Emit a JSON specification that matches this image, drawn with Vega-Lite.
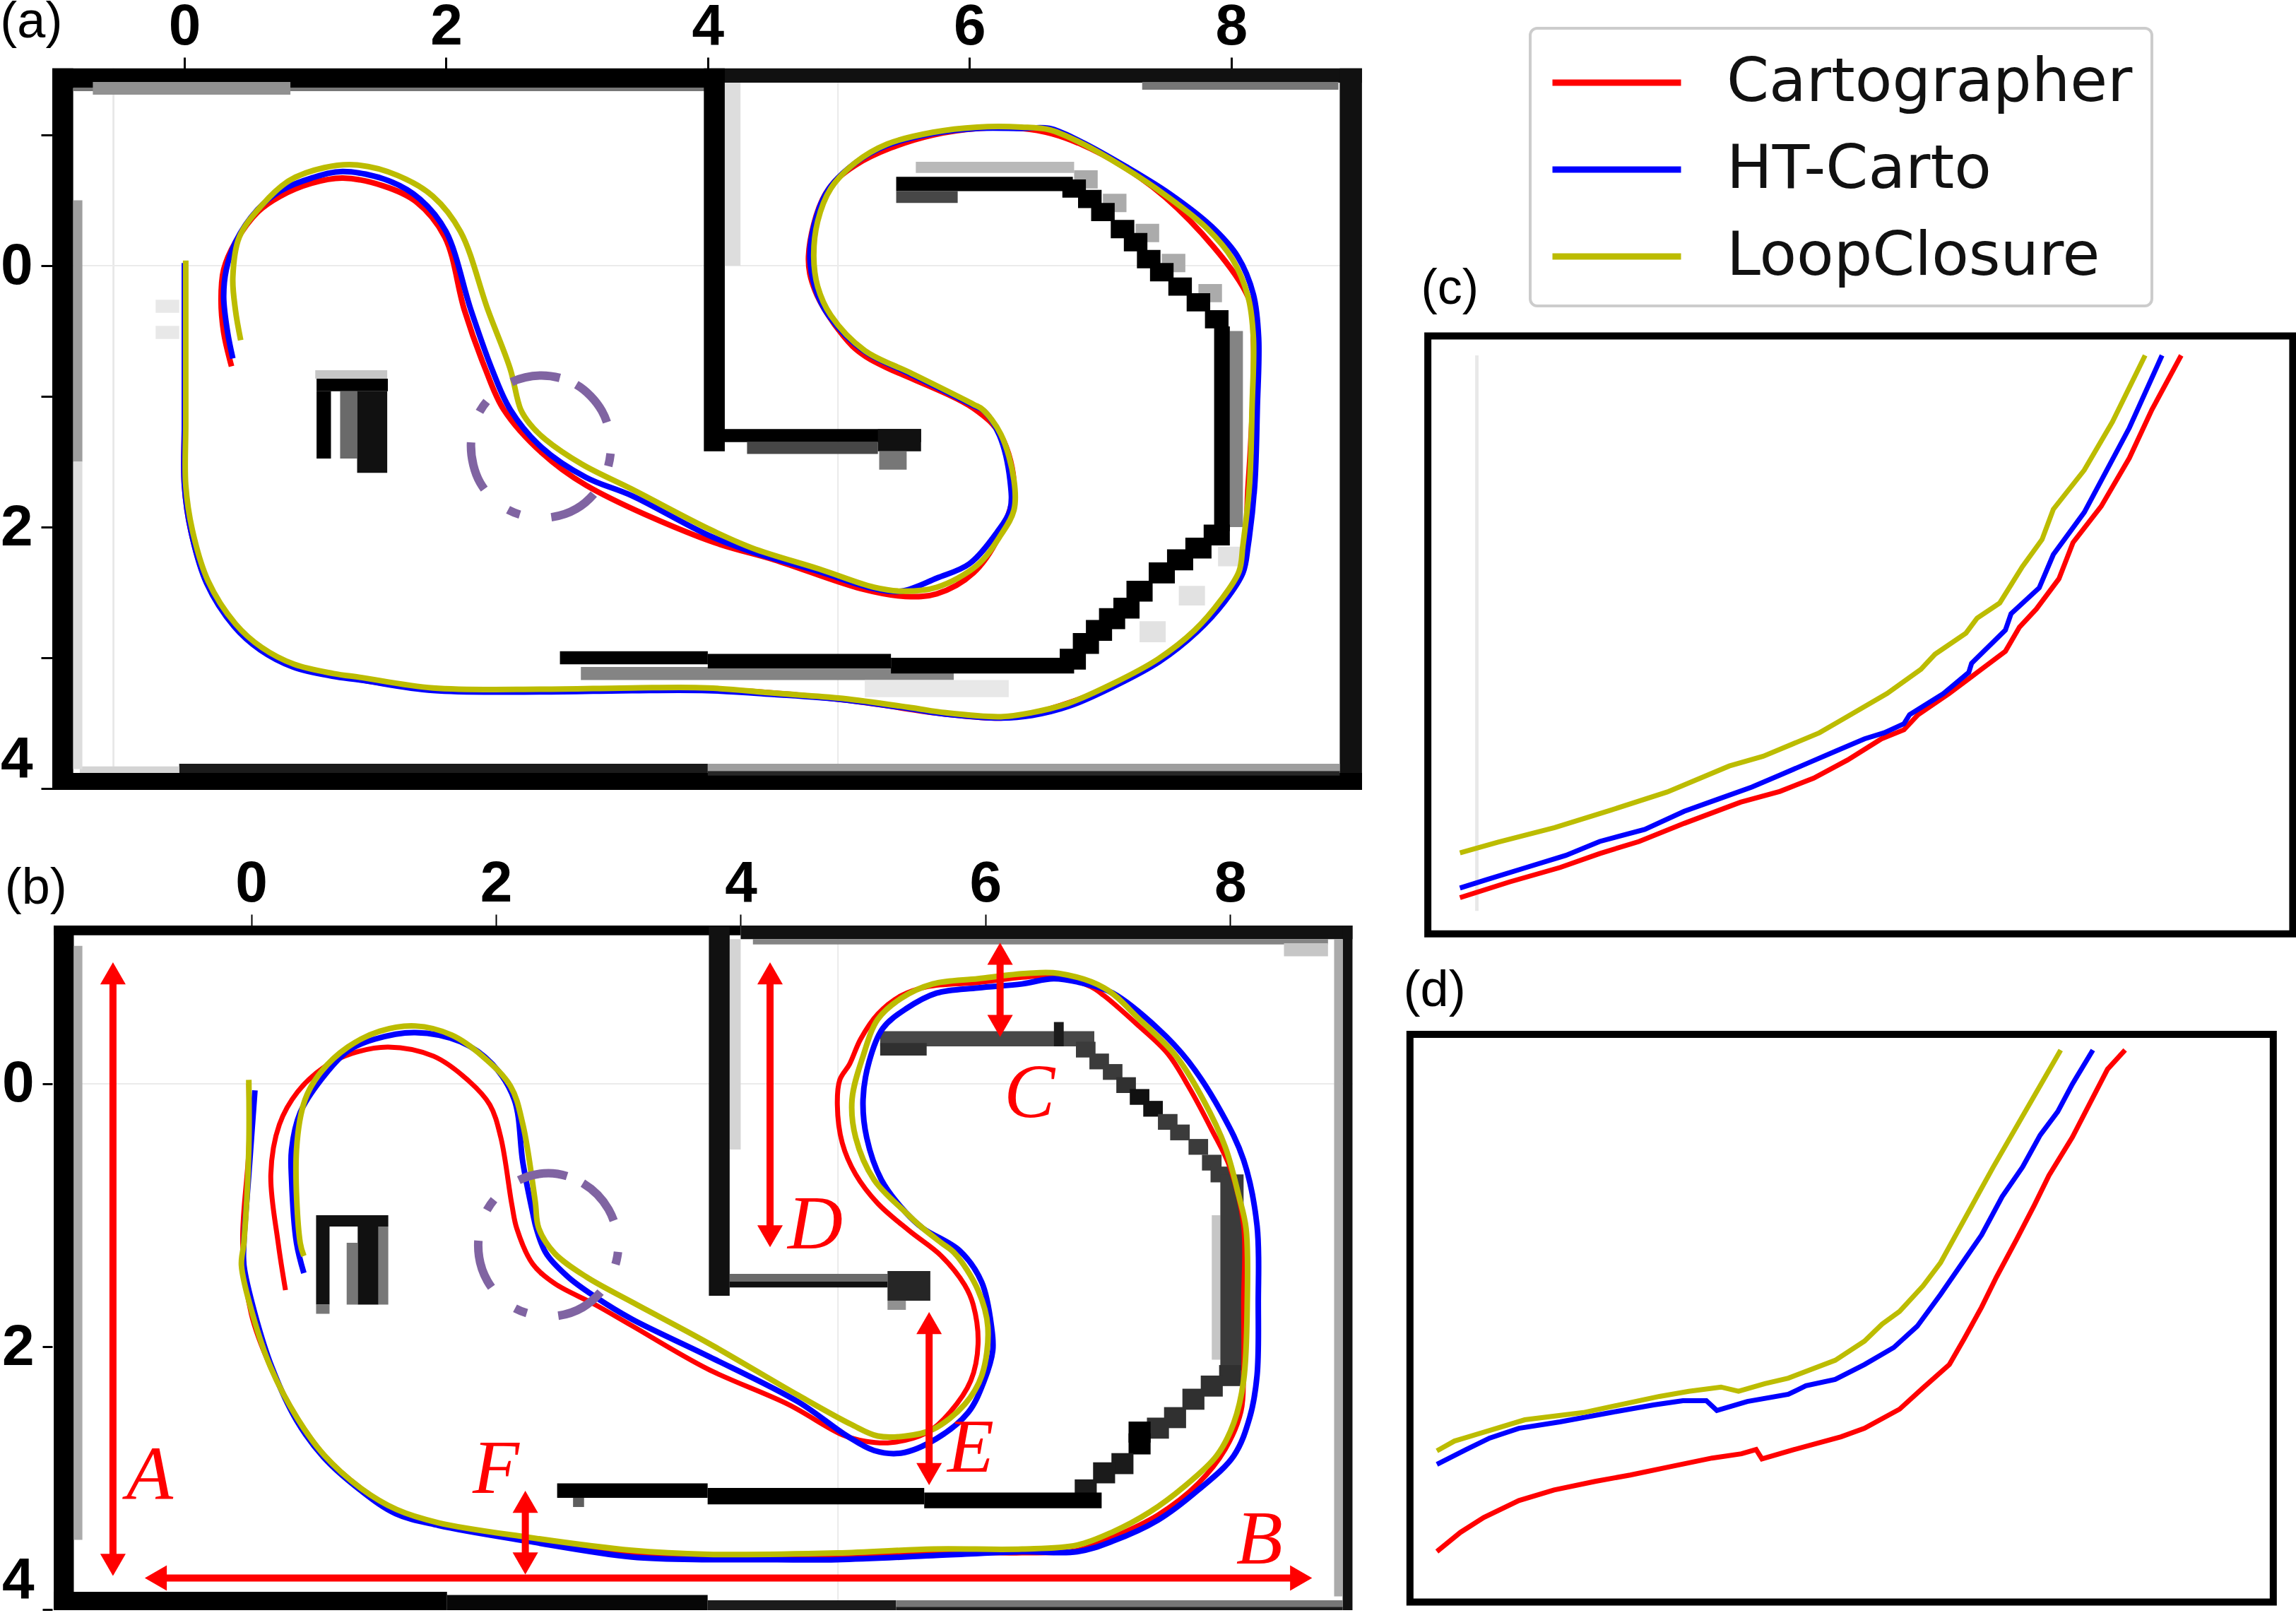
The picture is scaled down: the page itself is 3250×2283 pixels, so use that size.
{"$schema":"https://vega.github.io/schema/vega-lite/v6.json","background":"white","padding":{"left":0,"top":-6,"right":0,"bottom":0},"autosize":{"type":"pad"},"config":{"view":{"stroke":null},"legend":{"strokeWidth":4}},"bounds":"flush","columns":2,"spacing":{"row":192,"column":61},"resolve":{"legend":{"color":"independent"}},
"datasets":{
"aMap":[{"x":-0.55,"x2":-0.535,"y":-1.51,"y2":4.01,"g":0.08},{"x":4.99,"x2":5.0,"y":-1.51,"y2":4.01,"g":0.08},{"x":-1.01,"x2":9.0,"y":-0.005,"y2":0.005,"g":0.07},{"x":-1.01,"x2":-0.85,"y":-1.51,"y2":4.01,"g":1},{"x":-1.01,"x2":4.0,"y":-1.51,"y2":-1.36,"g":1},{"x":-0.85,"x2":4.0,"y":-1.36,"y2":-1.335,"g":0.5},{"x":-0.7,"x2":0.81,"y":-1.405,"y2":-1.308,"g":0.4},{"x":4.0,"x2":9.0,"y":-1.51,"y2":-1.4,"g":0.95},{"x":7.32,"x2":8.82,"y":-1.405,"y2":-1.346,"g":0.5},{"x":8.83,"x2":9.0,"y":-1.51,"y2":4.01,"g":0.95},{"x":-1.01,"x2":9.0,"y":3.88,"y2":4.01,"g":1},{"x":-0.04,"x2":4.0,"y":3.81,"y2":3.88,"g":0.9},{"x":4.0,"x2":8.83,"y":3.81,"y2":3.865,"g":0.35},{"x":4.0,"x2":8.83,"y":3.865,"y2":3.9,"g":0.85},{"x":-0.8,"x2":-0.04,"y":3.83,"y2":3.88,"g":0.15},{"x":-0.85,"x2":-0.78,"y":-0.5,"y2":1.5,"g":0.35},{"x":-0.85,"x2":-0.78,"y":1.5,"y2":3.85,"g":0.12},{"x":-0.22,"x2":-0.04,"y":0.26,"y2":0.36,"g":0.08},{"x":-0.22,"x2":-0.04,"y":0.46,"y2":0.56,"g":0.08},{"x":3.97,"x2":4.13,"y":-1.51,"y2":1.42,"g":1},{"x":4.13,"x2":4.25,"y":-1.4,"y2":0.0,"g":0.12},{"x":4.1,"x2":5.63,"y":1.25,"y2":1.35,"g":1},{"x":4.3,"x2":5.3,"y":1.35,"y2":1.44,"g":0.7},{"x":5.3,"x2":5.63,"y":1.25,"y2":1.42,"g":0.95},{"x":5.31,"x2":5.52,"y":1.42,"y2":1.56,"g":0.5},{"x":5.59,"x2":6.8,"y":-0.795,"y2":-0.71,"g":0.25},{"x":5.44,"x2":6.79,"y":-0.68,"y2":-0.57,"g":1},{"x":5.44,"x2":5.91,"y":-0.57,"y2":-0.48,"g":0.7},
{"x":6.8,"x2":6.98,"y":-0.73,"y2":-0.59,"g":0.3},{"x":7.02,"x2":7.2,"y":-0.55,"y2":-0.41,"g":0.3},{"x":7.27,"x2":7.45,"y":-0.32,"y2":-0.18,"g":0.3},{"x":7.47,"x2":7.65,"y":-0.09,"y2":0.05,"g":0.3},{"x":7.75,"x2":7.93,"y":0.14,"y2":0.28,"g":0.3},
{"x":6.71,"x2":6.89,"y":-0.66,"y2":-0.52,"g":1},{"x":6.83,"x2":7.01,"y":-0.58,"y2":-0.44,"g":1},{"x":6.93,"x2":7.11,"y":-0.48,"y2":-0.34,"g":1},{"x":7.08,"x2":7.26,"y":-0.35,"y2":-0.21,"g":1},{"x":7.18,"x2":7.36,"y":-0.25,"y2":-0.11,"g":1},{"x":7.28,"x2":7.46,"y":-0.12,"y2":0.02,"g":1},{"x":7.38,"x2":7.56,"y":-0.02,"y2":0.12,"g":1},{"x":7.52,"x2":7.7,"y":0.09,"y2":0.23,"g":1},{"x":7.66,"x2":7.84,"y":0.21,"y2":0.35,"g":1},{"x":7.8,"x2":7.98,"y":0.34,"y2":0.48,"g":1},
{"x":7.99,"x2":8.09,"y":0.5,"y2":2.0,"g":0.45},{"x":7.87,"x2":7.99,"y":0.465,"y2":2.03,"g":1},
{"x":7.9,"x2":8.1,"y":2.15,"y2":2.3,"g":0.1},{"x":7.6,"x2":7.8,"y":2.45,"y2":2.6,"g":0.1},{"x":7.3,"x2":7.5,"y":2.72,"y2":2.88,"g":0.1},
{"x":7.79,"x2":7.99,"y":1.98,"y2":2.14,"g":1},{"x":7.65,"x2":7.85,"y":2.08,"y2":2.24,"g":1},{"x":7.51,"x2":7.71,"y":2.17,"y2":2.33,"g":1},{"x":7.37,"x2":7.57,"y":2.27,"y2":2.43,"g":1},{"x":7.2,"x2":7.4,"y":2.41,"y2":2.57,"g":1},{"x":7.1,"x2":7.3,"y":2.54,"y2":2.7,"g":1},{"x":6.99,"x2":7.19,"y":2.62,"y2":2.78,"g":1},{"x":6.89,"x2":7.09,"y":2.71,"y2":2.87,"g":1},{"x":6.79,"x2":6.99,"y":2.81,"y2":2.97,"g":1},{"x":6.69,"x2":6.89,"y":2.93,"y2":3.09,"g":1},
{"x":3.03,"x2":5.88,"y":3.07,"y2":3.17,"g":0.45},{"x":5.2,"x2":6.3,"y":3.17,"y2":3.3,"g":0.08},{"x":2.87,"x2":4.0,"y":2.95,"y2":3.05,"g":1},{"x":4.0,"x2":5.4,"y":2.97,"y2":3.08,"g":1},{"x":5.4,"x2":6.8,"y":3.0,"y2":3.12,"g":1},
{"x":1.0,"x2":1.55,"y":0.8,"y2":0.865,"g":0.2},{"x":1.01,"x2":1.555,"y":0.865,"y2":0.96,"g":1},{"x":1.01,"x2":1.12,"y":0.96,"y2":1.475,"g":1},{"x":1.19,"x2":1.32,"y":0.96,"y2":1.475,"g":0.55},{"x":1.32,"x2":1.55,"y":0.96,"y2":1.585,"g":0.95}],
"bMap":[{"x":4.79,"x2":4.8,"y":-1.2,"y2":4.0,"g":0.08},{"x":-1.6,"x2":9.0,"y":-0.005,"y2":0.005,"g":0.07},{"x":-1.614,"x2":-1.45,"y":-1.204,"y2":4.005,"g":1},{"x":-1.45,"x2":-1.38,"y":-1.05,"y2":3.47,"g":0.3},{"x":-1.614,"x2":4.0,"y":-1.204,"y2":-1.13,"g":1},{"x":4.0,"x2":9.0,"y":-1.204,"y2":-1.1,"g":0.95},{"x":4.1,"x2":8.8,"y":-1.1,"y2":-1.06,"g":0.45},{"x":8.44,"x2":8.8,"y":-1.07,"y2":-0.97,"g":0.2},{"x":8.92,"x2":9.0,"y":-1.204,"y2":4.005,"g":0.95},{"x":8.85,"x2":8.92,"y":-1.1,"y2":3.9,"g":0.3},{"x":-1.614,"x2":1.6,"y":3.865,"y2":4.005,"g":1},{"x":1.6,"x2":3.73,"y":3.89,"y2":4.005,"g":0.98},{"x":3.73,"x2":5.27,"y":3.93,"y2":4.005,"g":0.9},{"x":5.27,"x2":8.92,"y":3.93,"y2":3.98,"g":0.5},{"x":5.27,"x2":8.92,"y":3.98,"y2":4.005,"g":0.9},{"x":3.91,"x2":4.0,"y":-1.1,"y2":0.5,"g":0.15},{"x":3.74,"x2":3.91,"y":-1.2,"y2":1.613,"g":0.95},{"x":3.91,"x2":5.2,"y":1.446,"y2":1.505,"g":0.55},{"x":3.91,"x2":5.2,"y":1.505,"y2":1.55,"g":0.95},{"x":5.2,"x2":5.55,"y":1.425,"y2":1.65,"g":0.85},{"x":5.2,"x2":5.35,"y":1.65,"y2":1.72,"g":0.4},{"x":5.14,"x2":6.89,"y":-0.4,"y2":-0.285,"g":0.7},{"x":5.14,"x2":5.52,"y":-0.31,"y2":-0.215,"g":0.8},{"x":6.56,"x2":6.64,"y":-0.47,"y2":-0.285,"g":0.9},
{"x":6.74,"x2":6.9,"y":-0.32,"y2":-0.2,"g":0.75},{"x":6.85,"x2":7.01,"y":-0.23,"y2":-0.11,"g":0.75},{"x":6.96,"x2":7.12,"y":-0.15,"y2":-0.03,"g":0.75},{"x":7.07,"x2":7.23,"y":-0.05,"y2":0.07,"g":0.8},{"x":7.18,"x2":7.34,"y":0.04,"y2":0.16,"g":0.95},{"x":7.29,"x2":7.45,"y":0.13,"y2":0.25,"g":0.95},{"x":7.41,"x2":7.57,"y":0.23,"y2":0.35,"g":0.75},{"x":7.51,"x2":7.67,"y":0.31,"y2":0.43,"g":0.75},{"x":7.66,"x2":7.82,"y":0.42,"y2":0.54,"g":0.75},{"x":7.77,"x2":7.93,"y":0.54,"y2":0.66,"g":0.75},{"x":7.84,"x2":8.0,"y":0.63,"y2":0.75,"g":0.75},
{"x":7.85,"x2":7.92,"y":1.0,"y2":2.1,"g":0.2},{"x":7.92,"x2":8.11,"y":0.69,"y2":2.18,"g":0.75},
{"x":7.91,"x2":8.09,"y":2.14,"y2":2.3,"g":0.8},{"x":7.76,"x2":7.94,"y":2.22,"y2":2.38,"g":0.8},{"x":7.61,"x2":7.79,"y":2.32,"y2":2.48,"g":0.8},{"x":7.46,"x2":7.64,"y":2.46,"y2":2.62,"g":0.8},{"x":7.32,"x2":7.5,"y":2.54,"y2":2.7,"g":0.8},{"x":7.17,"x2":7.35,"y":2.57,"y2":2.73,"g":1},{"x":7.17,"x2":7.35,"y":2.66,"y2":2.82,"g":1},{"x":7.03,"x2":7.21,"y":2.81,"y2":2.97,"g":0.9},{"x":6.88,"x2":7.06,"y":2.88,"y2":3.04,"g":0.9},{"x":6.73,"x2":6.91,"y":3.01,"y2":3.17,"g":0.9},
{"x":2.5,"x2":3.73,"y":3.04,"y2":3.15,"g":1},{"x":3.73,"x2":5.5,"y":3.075,"y2":3.2,"g":1},{"x":5.5,"x2":6.95,"y":3.11,"y2":3.23,"g":1},{"x":2.63,"x2":2.72,"y":3.15,"y2":3.22,"g":0.6},
{"x":0.53,"x2":1.12,"y":1.0,"y2":1.086,"g":0.95},{"x":0.53,"x2":0.64,"y":1.086,"y2":1.68,"g":0.95},{"x":0.53,"x2":0.64,"y":1.68,"y2":1.75,"g":0.5},{"x":0.87,"x2":1.04,"y":1.086,"y2":1.68,"g":0.95},{"x":1.04,"x2":1.12,"y":1.086,"y2":1.68,"g":0.5},{"x":0.78,"x2":0.87,"y":1.21,"y2":1.68,"g":0.5}],
"aR":[{"x":0,"y":0},{"x":0,"y":0.56},{"x":0,"y":1.21},{"x":0,"y":1.68},{"x":0.05,"y":2.03},{"x":0.17,"y":2.42},{"x":0.38,"y":2.75},{"x":0.59,"y":2.93},{"x":0.84,"y":3.06},{"x":1.14,"y":3.13},{"x":1.9,"y":3.24},{"x":2.73,"y":3.25},{"x":4,"y":3.24},{"x":5.03,"y":3.32},{"x":5.82,"y":3.43},{"x":6.24,"y":3.46},{"x":6.47,"y":3.43},{"x":7.09,"y":3.21},{"x":7.72,"y":2.8},{"x":8.06,"y":2.35},{"x":8.13,"y":1.68},{"x":8.17,"y":0.55},{"x":8.13,"y":0.24},{"x":7.5,"y":-0.52},{"x":6.85,"y":-0.93},{"x":6.4,"y":-1.05},{"x":5.72,"y":-1.0},{"x":5.13,"y":-0.77},{"x":4.9,"y":-0.55},{"x":4.77,"y":-0.07},{"x":4.82,"y":0.19},{"x":5.03,"y":0.53},{"x":5.2,"y":0.69},{"x":6.03,"y":1.09},{"x":6.24,"y":1.3},{"x":6.34,"y":1.7},{"x":6.24,"y":2.04},{"x":6.03,"y":2.35},{"x":5.75,"y":2.51},{"x":5.51,"y":2.53},{"x":5.17,"y":2.47},{"x":4.51,"y":2.25},{"x":4,"y":2.1},{"x":3.07,"y":1.68},{"x":2.73,"y":1.43},{"x":2.44,"y":1.1},{"x":2.3,"y":0.79},{"x":2.14,"y":0.34},{"x":1.99,"y":-0.22},{"x":1.77,"y":-0.49},{"x":1.52,"y":-0.61},{"x":1.21,"y":-0.67},{"x":0.97,"y":-0.63},{"x":0.73,"y":-0.53},{"x":0.56,"y":-0.41},{"x":0.39,"y":-0.18},{"x":0.3,"y":0.03},{"x":0.28,"y":0.26},{"x":0.3,"y":0.51},{"x":0.36,"y":0.77}],
"aB":[{"x":0,"y":-0.02},{"x":0,"y":0.56},{"x":0,"y":1.21},{"x":0,"y":1.68},{"x":0.05,"y":2.03},{"x":0.17,"y":2.43},{"x":0.38,"y":2.76},{"x":0.58,"y":2.94},{"x":0.83,"y":3.07},{"x":1.13,"y":3.14},{"x":1.35,"y":3.17},{"x":1.9,"y":3.25},{"x":2.73,"y":3.26},{"x":3.42,"y":3.25},{"x":4,"y":3.25},{"x":4.51,"y":3.28},{"x":5.03,"y":3.32},{"x":5.55,"y":3.39},{"x":5.82,"y":3.43},{"x":6.24,"y":3.46},{"x":6.48,"y":3.44},{"x":6.76,"y":3.37},{"x":7.1,"y":3.22},{"x":7.45,"y":3.03},{"x":7.74,"y":2.8},{"x":7.95,"y":2.57},{"x":8.09,"y":2.35},{"x":8.13,"y":2.14},{"x":8.18,"y":1.68},{"x":8.2,"y":1.08},{"x":8.21,"y":0.55},{"x":8.17,"y":0.22},{"x":8.05,"y":-0.07},{"x":7.85,"y":-0.3},{"x":7.53,"y":-0.55},{"x":7.21,"y":-0.75},{"x":6.85,"y":-0.95},{"x":6.61,"y":-1.05},{"x":6.4,"y":-1.05},{"x":6.06,"y":-1.05},{"x":5.72,"y":-1.01},{"x":5.37,"y":-0.92},{"x":5.12,"y":-0.78},{"x":4.92,"y":-0.58},{"x":4.82,"y":-0.34},{"x":4.78,"y":-0.07},{"x":4.82,"y":0.17},{"x":4.93,"y":0.39},{"x":5.19,"y":0.65},{"x":5.55,"y":0.83},{"x":6.03,"y":1.07},{"x":6.11,"y":1.11},{"x":6.23,"y":1.3},{"x":6.31,"y":1.64},{"x":6.31,"y":1.87},{"x":6.21,"y":2.04},{"x":6.0,"y":2.28},{"x":5.75,"y":2.39},{"x":5.48,"y":2.49},{"x":5.27,"y":2.47},{"x":4.85,"y":2.34},{"x":4.34,"y":2.19},{"x":4,"y":2.06},{"x":3.42,"y":1.76},{"x":3.07,"y":1.62},{"x":2.73,"y":1.39},{"x":2.49,"y":1.1},{"x":2.35,"y":0.79},{"x":2.19,"y":0.34},{"x":2.0,"y":-0.26},{"x":1.8,"y":-0.51},{"x":1.56,"y":-0.65},{"x":1.21,"y":-0.72},{"x":0.97,"y":-0.67},{"x":0.73,"y":-0.57},{"x":0.56,"y":-0.43},{"x":0.39,"y":-0.18},{"x":0.32,"y":0.03},{"x":0.3,"y":0.24},{"x":0.33,"y":0.51},{"x":0.37,"y":0.71}],
"aY":[{"x":0.01,"y":-0.04},{"x":0.01,"y":0.56},{"x":0.01,"y":1.21},{"x":0.01,"y":1.68},{"x":0.06,"y":2.02},{"x":0.18,"y":2.41},{"x":0.39,"y":2.74},{"x":0.59,"y":2.92},{"x":0.84,"y":3.05},{"x":1.14,"y":3.12},{"x":1.35,"y":3.15},{"x":1.9,"y":3.23},{"x":2.73,"y":3.24},{"x":3.42,"y":3.23},{"x":4,"y":3.23},{"x":4.51,"y":3.27},{"x":5.03,"y":3.31},{"x":5.55,"y":3.38},{"x":5.82,"y":3.42},{"x":6.24,"y":3.45},{"x":6.47,"y":3.42},{"x":6.75,"y":3.35},{"x":7.09,"y":3.2},{"x":7.44,"y":3.01},{"x":7.72,"y":2.79},{"x":7.92,"y":2.56},{"x":8.06,"y":2.34},{"x":8.09,"y":2.14},{"x":8.14,"y":1.68},{"x":8.16,"y":1.08},{"x":8.17,"y":0.55},{"x":8.13,"y":0.24},{"x":8.01,"y":-0.05},{"x":7.82,"y":-0.28},{"x":7.51,"y":-0.53},{"x":7.2,"y":-0.74},{"x":6.85,"y":-0.94},{"x":6.61,"y":-1.04},{"x":6.4,"y":-1.06},{"x":6.06,"y":-1.06},{"x":5.72,"y":-1.02},{"x":5.37,"y":-0.93},{"x":5.13,"y":-0.79},{"x":4.94,"y":-0.59},{"x":4.84,"y":-0.34},{"x":4.81,"y":-0.07},{"x":4.84,"y":0.16},{"x":4.94,"y":0.38},{"x":5.2,"y":0.65},{"x":5.55,"y":0.82},{"x":6.03,"y":1.06},{"x":6.1,"y":1.1},{"x":6.24,"y":1.29},{"x":6.34,"y":1.64},{"x":6.34,"y":1.87},{"x":6.24,"y":2.06},{"x":6.06,"y":2.29},{"x":5.75,"y":2.46},{"x":5.48,"y":2.49},{"x":5.27,"y":2.46},{"x":4.85,"y":2.32},{"x":4.34,"y":2.16},{"x":4,"y":2.01},{"x":3.42,"y":1.71},{"x":3.04,"y":1.52},{"x":2.76,"y":1.33},{"x":2.64,"y":1.21},{"x":2.57,"y":1.1},{"x":2.49,"y":0.79},{"x":2.32,"y":0.34},{"x":2.11,"y":-0.26},{"x":1.9,"y":-0.53},{"x":1.63,"y":-0.69},{"x":1.32,"y":-0.77},{"x":1.07,"y":-0.75},{"x":0.8,"y":-0.65},{"x":0.59,"y":-0.46},{"x":0.42,"y":-0.22},{"x":0.37,"y":0.09},{"x":0.39,"y":0.34},{"x":0.43,"y":0.57}],
"bR":[{"x":-0.02,"y":0},{"x":-0.02,"y":0.5},{"x":-0.07,"y":1.21},{"x":0,"y":1.75},{"x":0.16,"y":2.16},{"x":0.38,"y":2.55},{"x":0.6,"y":2.83},{"x":0.9,"y":3.08},{"x":1.19,"y":3.25},{"x":1.53,"y":3.35},{"x":2.26,"y":3.46},{"x":3.11,"y":3.57},{"x":3.73,"y":3.61},{"x":4.79,"y":3.59},{"x":5.57,"y":3.56},{"x":6.3,"y":3.57},{"x":6.75,"y":3.55},{"x":7.04,"y":3.45},{"x":7.41,"y":3.28},{"x":7.74,"y":3.04},{"x":7.96,"y":2.78},{"x":8.09,"y":2.49},{"x":8.11,"y":2.22},{"x":8.11,"y":1.66},{"x":8.11,"y":1.08},{"x":8.0,"y":0.64},{"x":7.85,"y":0.35},{"x":7.66,"y":0.02},{"x":7.49,"y":-0.23},{"x":7.23,"y":-0.46},{"x":6.97,"y":-0.67},{"x":6.86,"y":-0.74},{"x":6.56,"y":-0.82},{"x":6.3,"y":-0.81},{"x":5.94,"y":-0.77},{"x":5.53,"y":-0.74},{"x":5.31,"y":-0.67},{"x":5.12,"y":-0.53},{"x":4.98,"y":-0.34},{"x":4.89,"y":-0.15},{"x":4.81,"y":-0.03},{"x":4.79,"y":0.16},{"x":4.83,"y":0.45},{"x":4.94,"y":0.69},{"x":5.12,"y":0.91},{"x":5.38,"y":1.12},{"x":5.64,"y":1.31},{"x":5.83,"y":1.53},{"x":5.9,"y":1.68},{"x":5.94,"y":1.98},{"x":5.88,"y":2.26},{"x":5.71,"y":2.5},{"x":5.53,"y":2.65},{"x":5.23,"y":2.73},{"x":5.02,"y":2.72},{"x":4.83,"y":2.67},{"x":4.39,"y":2.44},{"x":3.73,"y":2.17},{"x":3.11,"y":1.84},{"x":2.81,"y":1.68},{"x":2.48,"y":1.52},{"x":2.3,"y":1.37},{"x":2.17,"y":1.1},{"x":2.13,"y":0.92},{"x":2.04,"y":0.41},{"x":1.95,"y":0.16},{"x":1.78,"y":-0.02},{"x":1.49,"y":-0.21},{"x":1.12,"y":-0.28},{"x":0.82,"y":-0.23},{"x":0.6,"y":-0.13},{"x":0.38,"y":0.06},{"x":0.23,"y":0.31},{"x":0.16,"y":0.69},{"x":0.22,"y":1.21},{"x":0.28,"y":1.57}],
"bB":[{"x":0.03,"y":0.05},{"x":-0.02,"y":0.69},{"x":-0.06,"y":1.21},{"x":-0.06,"y":1.38},{"x":0.03,"y":1.75},{"x":0.17,"y":2.16},{"x":0.37,"y":2.56},{"x":0.59,"y":2.84},{"x":0.89,"y":3.09},{"x":1.18,"y":3.27},{"x":1.53,"y":3.36},{"x":2.26,"y":3.48},{"x":3.11,"y":3.6},{"x":3.73,"y":3.62},{"x":4.1,"y":3.62},{"x":4.79,"y":3.62},{"x":5.57,"y":3.59},{"x":6.3,"y":3.56},{"x":6.75,"y":3.56},{"x":7.04,"y":3.48},{"x":7.41,"y":3.32},{"x":7.74,"y":3.09},{"x":8.03,"y":2.83},{"x":8.16,"y":2.54},{"x":8.22,"y":2.22},{"x":8.23,"y":1.66},{"x":8.22,"y":1.08},{"x":8.11,"y":0.58},{"x":7.93,"y":0.22},{"x":7.66,"y":-0.17},{"x":7.41,"y":-0.42},{"x":7.04,"y":-0.69},{"x":6.82,"y":-0.76},{"x":6.56,"y":-0.8},{"x":6.3,"y":-0.76},{"x":5.94,"y":-0.73},{"x":5.6,"y":-0.69},{"x":5.35,"y":-0.57},{"x":5.16,"y":-0.42},{"x":5.05,"y":-0.17},{"x":5.0,"y":0.12},{"x":5.03,"y":0.41},{"x":5.15,"y":0.73},{"x":5.35,"y":0.98},{"x":5.49,"y":1.1},{"x":5.79,"y":1.27},{"x":5.97,"y":1.51},{"x":6.05,"y":1.85},{"x":6.06,"y":2.03},{"x":5.99,"y":2.26},{"x":5.86,"y":2.5},{"x":5.6,"y":2.7},{"x":5.31,"y":2.81},{"x":5.09,"y":2.79},{"x":4.87,"y":2.68},{"x":4.47,"y":2.42},{"x":3.73,"y":2.07},{"x":3.11,"y":1.79},{"x":2.81,"y":1.62},{"x":2.59,"y":1.47},{"x":2.41,"y":1.29},{"x":2.33,"y":1.1},{"x":2.3,"y":0.98},{"x":2.22,"y":0.6},{"x":2.15,"y":0.12},{"x":1.97,"y":-0.15},{"x":1.71,"y":-0.32},{"x":1.34,"y":-0.39},{"x":1.01,"y":-0.34},{"x":0.79,"y":-0.25},{"x":0.57,"y":-0.03},{"x":0.4,"y":0.22},{"x":0.33,"y":0.5},{"x":0.33,"y":0.73},{"x":0.37,"y":1.21},{"x":0.43,"y":1.44}],
"bY":[{"x":-0.02,"y":-0.03},{"x":-0.02,"y":0.5},{"x":-0.06,"y":1.21},{"x":-0.08,"y":1.38},{"x":0.01,"y":1.75},{"x":0.16,"y":2.16},{"x":0.38,"y":2.55},{"x":0.6,"y":2.83},{"x":0.9,"y":3.08},{"x":1.19,"y":3.24},{"x":1.53,"y":3.34},{"x":2.26,"y":3.45},{"x":3.11,"y":3.55},{"x":3.73,"y":3.58},{"x":4.79,"y":3.57},{"x":5.57,"y":3.54},{"x":6.3,"y":3.54},{"x":6.75,"y":3.51},{"x":7.04,"y":3.41},{"x":7.34,"y":3.26},{"x":7.63,"y":3.06},{"x":7.89,"y":2.83},{"x":8.03,"y":2.58},{"x":8.11,"y":2.26},{"x":8.14,"y":1.66},{"x":8.13,"y":1.1},{"x":8.07,"y":0.85},{"x":7.96,"y":0.48},{"x":7.78,"y":0.12},{"x":7.56,"y":-0.21},{"x":7.26,"y":-0.49},{"x":6.97,"y":-0.73},{"x":6.6,"y":-0.84},{"x":6.34,"y":-0.84},{"x":5.94,"y":-0.8},{"x":5.57,"y":-0.76},{"x":5.31,"y":-0.65},{"x":5.12,"y":-0.49},{"x":5.0,"y":-0.21},{"x":4.91,"y":0.12},{"x":4.94,"y":0.41},{"x":5.09,"y":0.73},{"x":5.35,"y":0.98},{"x":5.49,"y":1.1},{"x":5.64,"y":1.21},{"x":5.75,"y":1.29},{"x":5.94,"y":1.57},{"x":6.02,"y":1.85},{"x":5.97,"y":2.22},{"x":5.83,"y":2.44},{"x":5.57,"y":2.63},{"x":5.35,"y":2.68},{"x":5.12,"y":2.68},{"x":4.9,"y":2.59},{"x":4.47,"y":2.37},{"x":3.73,"y":1.97},{"x":3.11,"y":1.66},{"x":2.74,"y":1.47},{"x":2.48,"y":1.29},{"x":2.35,"y":1.1},{"x":2.32,"y":0.89},{"x":2.22,"y":0.31},{"x":2.12,"y":0.02},{"x":1.89,"y":-0.21},{"x":1.64,"y":-0.37},{"x":1.34,"y":-0.44},{"x":1.05,"y":-0.4},{"x":0.79,"y":-0.28},{"x":0.57,"y":-0.09},{"x":0.44,"y":0.12},{"x":0.37,"y":0.5},{"x":0.4,"y":1.21},{"x":0.43,"y":1.31}],
"cR":[{"x":82,"y":1488},{"x":170,"y":1462},{"x":260,"y":1438},{"x":330,"y":1415},{"x":400,"y":1395},{"x":480,"y":1365},{"x":580,"y":1330},{"x":650,"y":1312},{"x":710,"y":1290},{"x":770,"y":1260},{"x":830,"y":1225},{"x":870,"y":1210},{"x":895,"y":1185},{"x":950,"y":1150},{"x":1000,"y":1115},{"x":1050,"y":1080},{"x":1075,"y":1040},{"x":1105,"y":1010},{"x":1145,"y":960},{"x":1170,"y":900},{"x":1220,"y":840},{"x":1270,"y":760},{"x":1310,"y":680},{"x":1362,"y":590}],
"cB":[{"x":82,"y":1472},{"x":130,"y":1458},{"x":200,"y":1438},{"x":270,"y":1418},{"x":330,"y":1395},{"x":410,"y":1375},{"x":480,"y":1345},{"x":540,"y":1325},{"x":600,"y":1305},{"x":650,"y":1285},{"x":700,"y":1265},{"x":750,"y":1245},{"x":800,"y":1225},{"x":835,"y":1215},{"x":870,"y":1200},{"x":880,"y":1185},{"x":940,"y":1150},{"x":985,"y":1115},{"x":990,"y":1100},{"x":1050,"y":1045},{"x":1060,"y":1018},{"x":1110,"y":975},{"x":1135,"y":920},{"x":1190,"y":850},{"x":1230,"y":780},{"x":1270,"y":710},{"x":1328,"y":590}],
"cY":[{"x":82,"y":1414},{"x":150,"y":1396},{"x":250,"y":1372},{"x":350,"y":1343},{"x":450,"y":1313},{"x":560,"y":1270},{"x":620,"y":1254},{"x":720,"y":1215},{"x":770,"y":1188},{"x":840,"y":1150},{"x":900,"y":1110},{"x":925,"y":1085},{"x":980,"y":1050},{"x":1000,"y":1025},{"x":1040,"y":1000},{"x":1080,"y":940},{"x":1115,"y":895},{"x":1135,"y":845},{"x":1190,"y":780},{"x":1240,"y":700},{"x":1298,"y":590}],
"dR":[{"x":100,"y":1425},{"x":140,"y":1380},{"x":180,"y":1345},{"x":240,"y":1305},{"x":300,"y":1280},{"x":370,"y":1260},{"x":430,"y":1245},{"x":500,"y":1225},{"x":570,"y":1205},{"x":620,"y":1195},{"x":645,"y":1185},{"x":655,"y":1207},{"x":710,"y":1185},{"x":790,"y":1155},{"x":830,"y":1135},{"x":890,"y":1090},{"x":930,"y":1040},{"x":975,"y":985},{"x":1000,"y":925},{"x":1030,"y":850},{"x":1055,"y":780},{"x":1090,"y":690},{"x":1120,"y":610},{"x":1145,"y":540},{"x":1185,"y":450},{"x":1215,"y":370},{"x":1245,"y":290},{"x":1275,"y":245}],
"dB":[{"x":100,"y":1220},{"x":150,"y":1185},{"x":190,"y":1158},{"x":240,"y":1135},{"x":310,"y":1120},{"x":400,"y":1097},{"x":470,"y":1080},{"x":520,"y":1070},{"x":560,"y":1070},{"x":578,"y":1093},{"x":630,"y":1072},{"x":700,"y":1055},{"x":730,"y":1035},{"x":780,"y":1020},{"x":830,"y":985},{"x":880,"y":945},{"x":920,"y":895},{"x":960,"y":820},{"x":990,"y":760},{"x":1030,"y":680},{"x":1065,"y":590},{"x":1100,"y":520},{"x":1130,"y":445},{"x":1160,"y":390},{"x":1185,"y":325},{"x":1220,"y":245}],
"dY":[{"x":100,"y":1188},{"x":130,"y":1165},{"x":190,"y":1140},{"x":250,"y":1115},{"x":350,"y":1098},{"x":480,"y":1060},{"x":530,"y":1048},{"x":585,"y":1038},{"x":615,"y":1048},{"x":660,"y":1030},{"x":700,"y":1017},{"x":780,"y":975},{"x":830,"y":930},{"x":860,"y":890},{"x":890,"y":860},{"x":930,"y":800},{"x":960,"y":745},{"x":1050,"y":520},{"x":1165,"y":245}]
},
"concat":[
{"width":1855,"height":1021,
"encoding":{"x":{"field":"x","type":"quantitative","scale":{"domain":[-1.01,9.006],"nice":false,"zero":false},"axis":{"orient":"top","values":[0,2,4,6,8],"title":null,"grid":false,"domain":false,"tickColor":"black","tickSize":16,"tickWidth":3,"labelFont":"Liberation Sans","labelFontWeight":"bold","labelFontSize":82,"labelColor":"black","labelPadding":2,"labelFlush":false,"labelOverlap":false,"labelBound":false}},"y":{"field":"y","type":"quantitative","scale":{"domain":[-1.508,4.01],"nice":false,"zero":false,"reverse":true},"axis":{"orient":"left","values":[-1,0,1,2,3,4],"labelExpr":"datum.value%2==0 ? datum.label : ''","title":null,"grid":false,"domain":false,"tickColor":"black","tickSize":16,"tickWidth":3,"labelFont":"Liberation Sans","labelFontWeight":"bold","labelFontSize":82,"labelColor":"black","labelPadding":12,"labelFlush":false,"labelOverlap":false,"labelBound":false,"labelBaseline":{"condition":{"test":"datum.value==4","value":"bottom"},"value":"middle"}}}},
"layer":[
{"data":{"name":"aMap"},"mark":{"type":"rect"},"encoding":{"x2":{"field":"x2"},"y2":{"field":"y2"},"fill":{"field":"g","type":"quantitative","scale":{"domain":[0,1],"range":["#ffffff","#000000"]},"legend":null}}},
{"data":{"name":"aR"},"mark":{"type":"line","interpolate":"catmull-rom","strokeWidth":8},"encoding":{"order":{"value":null},"color":{"datum":"Cartographer","type":"nominal","scale":{"domain":["Cartographer","HT-Carto","LoopClosure"],"range":["#ff0000","#0000ff","#bcbc00"]},"legend":null}}},
{"data":{"name":"aB"},"mark":{"type":"line","interpolate":"catmull-rom","strokeWidth":8},"encoding":{"order":{"value":null},"color":{"datum":"HT-Carto","type":"nominal","legend":null}}},
{"data":{"name":"aY"},"mark":{"type":"line","interpolate":"catmull-rom","strokeWidth":8},"encoding":{"order":{"value":null},"color":{"datum":"LoopClosure","type":"nominal","legend":null}}},
{"data":{"values":[{"x":2.73,"y":0.84},{"x":2.995,"y":0.91},{"x":3.19,"y":1.11},{"x":3.26,"y":1.38},{"x":3.19,"y":1.66},{"x":2.995,"y":1.86},{"x":2.73,"y":1.93},{"x":2.46,"y":1.86},{"x":2.26,"y":1.66},{"x":2.19,"y":1.38},{"x":2.26,"y":1.11},{"x":2.46,"y":0.91}]},"mark":{"type":"line","interpolate":"cardinal-closed","stroke":"#8064a2","strokeWidth":12,"strokeDash":[70,45,18,45]},"encoding":{"order":{"value":null}}},
{"data":{"values":[{"x":-1.17,"y":-1.865,"t":"(a)"}]},"mark":{"type":"text","font":"Liberation Sans","fontSize":72,"color":"black"},"encoding":{"text":{"field":"t"}}}
]},
{"width":1261,"height":1021,
"encoding":{"x":{"field":"x","type":"quantitative","scale":{"domain":[-14,1567],"nice":false,"zero":false},"axis":null},"y":{"field":"y","type":"quantitative","scale":{"domain":[115,1309.6],"nice":false,"zero":false,"reverse":true},"axis":null}},
"layer":[
{"data":{"values":[{"x":109,"x2":115,"y":590,"y2":1510}]},"mark":{"type":"rect","color":"#e8e8e8"},"encoding":{"x2":{"field":"x2"},"y2":{"field":"y2"}}},
{"data":{"name":"cR"},"mark":{"type":"line","strokeWidth":7},"encoding":{"order":{"value":null},"color":{"datum":"Cartographer","type":"nominal","legend":{"orient":"none","legendX":176,"legendY":-57,"title":null,"symbolType":"M-1,0H3","symbolSize":8281,"symbolStrokeWidth":9,"labelFont":"DejaVu Sans","labelFontSize":86,"labelColor":"#111111","labelLimit":1000,"labelOffset":151,"rowPadding":30,"fillColor":"white","strokeColor":"#cccccc","padding":27,"cornerRadius":10}}}},
{"data":{"name":"cB"},"mark":{"type":"line","strokeWidth":7},"encoding":{"order":{"value":null},"color":{"datum":"HT-Carto","type":"nominal"}}},
{"data":{"name":"cY"},"mark":{"type":"line","strokeWidth":7},"encoding":{"order":{"value":null},"color":{"datum":"LoopClosure","type":"nominal"}}},
{"data":{"values":[{"x":25,"x2":1560,"y":558,"y2":1548}]},"mark":{"type":"rect","filled":false,"stroke":"black","strokeWidth":10},"encoding":{"x2":{"field":"x2"},"y2":{"field":"y2"}}},
{"data":{"values":[{"x":64,"y":480,"t":"(c)"}]},"mark":{"type":"text","font":"Liberation Sans","fontSize":70,"color":"black"},"encoding":{"text":{"field":"t"}}}
]},
{"width":1855,"height":969,
"encoding":{"x":{"field":"x","type":"quantitative","scale":{"domain":[-1.626,9.084],"nice":false,"zero":false},"axis":{"orient":"top","values":[0,2,4,6,8],"title":null,"grid":false,"domain":false,"tickColor":"black","tickSize":16,"tickWidth":2,"labelFont":"Liberation Sans","labelFontWeight":"bold","labelFontSize":82,"labelColor":"black","labelPadding":2,"labelFlush":false,"labelOverlap":false,"labelBound":false}},"y":{"field":"y","type":"quantitative","scale":{"domain":[-1.204,4.005],"nice":false,"zero":false,"reverse":true},"axis":{"orient":"left","values":[0,2,4],"title":null,"grid":false,"domain":false,"tickColor":"black","tickSize":14,"tickWidth":3,"labelFont":"Liberation Sans","labelFontWeight":"bold","labelFontSize":82,"labelColor":"black","labelPadding":12,"labelFlush":false,"labelOverlap":false,"labelBound":false,"labelBaseline":{"condition":{"test":"datum.value==4","value":"bottom"},"value":"middle"}}}},
"layer":[
{"data":{"name":"bMap"},"mark":{"type":"rect"},"encoding":{"x2":{"field":"x2"},"y2":{"field":"y2"},"fill":{"field":"g","type":"quantitative","scale":{"domain":[0,1],"range":["#ffffff","#000000"]},"legend":null}}},
{"data":{"name":"bR"},"mark":{"type":"line","interpolate":"catmull-rom","strokeWidth":7},"encoding":{"order":{"value":null},"color":{"datum":"Cartographer","type":"nominal","legend":null}}},
{"data":{"name":"bB"},"mark":{"type":"line","interpolate":"catmull-rom","strokeWidth":8},"encoding":{"order":{"value":null},"color":{"datum":"HT-Carto","type":"nominal","legend":null}}},
{"data":{"name":"bY"},"mark":{"type":"line","interpolate":"catmull-rom","strokeWidth":8},"encoding":{"order":{"value":null},"color":{"datum":"LoopClosure","type":"nominal","legend":null}}},
{"data":{"values":[{"x":2.43,"y":0.68},{"x":2.71,"y":0.756},{"x":2.92,"y":0.955},{"x":3.0,"y":1.23},{"x":2.92,"y":1.5},{"x":2.71,"y":1.7},{"x":2.43,"y":1.77},{"x":2.14,"y":1.7},{"x":1.93,"y":1.5},{"x":1.855,"y":1.23},{"x":1.93,"y":0.955},{"x":2.14,"y":0.756}]},"mark":{"type":"line","interpolate":"cardinal-closed","stroke":"#8064a2","strokeWidth":12,"strokeDash":[70,45,18,45]},"encoding":{"order":{"value":null}}},
{"data":{"values":[{"x":-1.13,"x2":-1.13,"y":-0.84,"y2":3.66},{"x":-0.78,"x2":8.58,"y":3.76,"y2":3.76},{"x":6.12,"x2":6.12,"y":-0.99,"y2":-0.44},{"x":4.24,"x2":4.24,"y":-0.84,"y2":1.16},{"x":5.54,"x2":5.54,"y":1.82,"y2":2.97},{"x":2.24,"x2":2.24,"y":3.18,"y2":3.65}]},"mark":{"type":"rule","color":"#ff0000","strokeWidth":10},"encoding":{"x2":{"field":"x2"},"y2":{"field":"y2"}}},
{"data":{"values":[{"x":-1.13,"y":-0.84,"h":"triangle-up"},{"x":-1.13,"y":3.66,"h":"triangle-down"},{"x":-0.78,"y":3.76,"h":"triangle-left"},{"x":8.58,"y":3.76,"h":"triangle-right"},{"x":6.12,"y":-0.99,"h":"triangle-up"},{"x":6.12,"y":-0.44,"h":"triangle-down"},{"x":4.24,"y":-0.84,"h":"triangle-up"},{"x":4.24,"y":1.16,"h":"triangle-down"},{"x":5.54,"y":1.82,"h":"triangle-up"},{"x":5.54,"y":2.97,"h":"triangle-down"},{"x":2.24,"y":3.18,"h":"triangle-up"},{"x":2.24,"y":3.65,"h":"triangle-down"}]},"mark":{"type":"point","filled":true,"color":"#ff0000","opacity":1,"size":1300},"encoding":{"shape":{"field":"h","type":"nominal","scale":null}}},
{"data":{"values":[{"x":-0.83,"y":2.99,"t":"A"},{"x":8.24,"y":3.48,"t":"B"},{"x":6.36,"y":0.08,"t":"C"},{"x":4.61,"y":1.08,"t":"D"},{"x":5.88,"y":2.78,"t":"E"},{"x":2.0,"y":2.94,"t":"F"}]},"mark":{"type":"text","font":"Liberation Serif","fontStyle":"italic","fontSize":108,"color":"#ff0000"},"encoding":{"text":{"field":"t"}}},
{"data":{"values":[{"x":-1.76,"y":-1.49,"t":"(b)"}]},"mark":{"type":"text","font":"Liberation Sans","fontSize":72,"color":"black"},"encoding":{"text":{"field":"t"}}}
]},
{"width":1261,"height":969,
"encoding":{"x":{"field":"x","type":"quantitative","scale":{"domain":[47,1568],"nice":false,"zero":false},"axis":null},"y":{"field":"y","type":"quantitative","scale":{"domain":[-48,1563],"nice":false,"zero":false,"reverse":true},"axis":null}},
"layer":[
{"data":{"name":"dR"},"mark":{"type":"line","strokeWidth":7},"encoding":{"order":{"value":null},"color":{"datum":"Cartographer","type":"nominal","legend":null}}},
{"data":{"name":"dB"},"mark":{"type":"line","strokeWidth":7},"encoding":{"order":{"value":null},"color":{"datum":"HT-Carto","type":"nominal","legend":null}}},
{"data":{"name":"dY"},"mark":{"type":"line","strokeWidth":7},"encoding":{"order":{"value":null},"color":{"datum":"LoopClosure","type":"nominal","legend":null}}},
{"data":{"values":[{"x":54,"x2":1528,"y":208,"y2":1544}]},"mark":{"type":"rect","filled":false,"stroke":"black","strokeWidth":10},"encoding":{"x2":{"field":"x2"},"y2":{"field":"y2"}}},
{"data":{"values":[{"x":96,"y":105,"t":"(d)"}]},"mark":{"type":"text","font":"Liberation Sans","fontSize":72,"color":"black"},"encoding":{"text":{"field":"t"}}}
]}
]}
